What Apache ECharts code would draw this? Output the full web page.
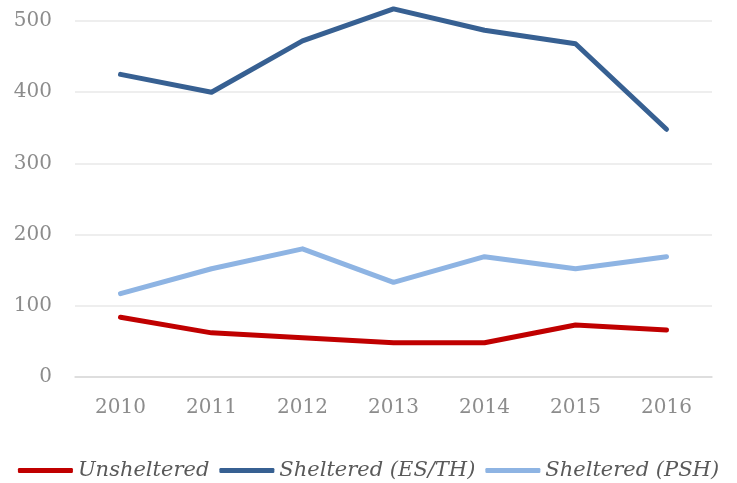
<!DOCTYPE html>
<html>
<head>
<meta charset="utf-8">
<script src="https://cdn.jsdelivr.net/npm/echarts@6/dist/echarts.min.js"></script>
<style>
	html, body { margin: 0; padding: 0; background: #fff; }
	#chart { width: 737px; height: 483px; }
</style>
</head>
<body>
<div id="chart"></div>
<script>
const years = ["2010", "2011", "2012", "2013", "2014", "2015", "2016"];
const unsheltered = [84, 62, 55, 48, 48, 73, 66];
const shelteredEsTh = [425, 400, 472, 517, 487, 468, 348];
const shelteredPsh = [117, 152, 180, 133, 169, 152, 169];

const chart = echarts.init(document.getElementById("chart"));

const serif = "DejaVu Serif";

const option = {
	animation: false,
	grid: {
		left: 75,
		right: 25,
		top: 21,
		bottom: 106
	},
	legend: {
		top: 455,
		left: "center",
		icon: "roundRect",
		itemWidth: 55,
		itemHeight: 5,
		itemGap: 10,
		textStyle: {
			fontFamily: serif,
			fontStyle: "italic",
			fontSize: 21,
			color: "#595959"
		},
		data: ["Unsheltered", "Sheltered (ES/TH)", "Sheltered (PSH)"]
	},
	xAxis: {
		type: "category",
		data: years,
		axisLine: { lineStyle: { color: "#d9d9d9", width: 1.5 } },
		axisTick: { show: false },
		axisLabel: {
			fontFamily: serif,
			fontSize: 20,
			color: "#8c8c8c",
			margin: 21
		}
	},
	yAxis: {
		type: "value",
		min: 0,
		max: 500,
		interval: 100,
		axisLine: { show: false },
		axisTick: { show: false },
		axisLabel: {
			fontFamily: serif,
			fontSize: 20,
			color: "#8c8c8c",
			margin: 23
		},
		splitLine: { lineStyle: { color: "#e8e8e8", width: 1.5 } }
	},
	series: [
		{
			name: "Unsheltered",
			type: "line",
			data: unsheltered,
			symbol: "none",
			clip: false,
			lineStyle: { color: "#c00000", width: 5, cap: "round", join: "round" },
			itemStyle: { color: "#c00000" }
		},
		{
			name: "Sheltered (ES/TH)",
			type: "line",
			data: shelteredEsTh,
			symbol: "none",
			clip: false,
			lineStyle: { color: "#376092", width: 5, cap: "round", join: "round" },
			itemStyle: { color: "#376092" }
		},
		{
			name: "Sheltered (PSH)",
			type: "line",
			data: shelteredPsh,
			symbol: "none",
			clip: false,
			lineStyle: { color: "#8eb4e3", width: 5, cap: "round", join: "round" },
			itemStyle: { color: "#8eb4e3" }
		}
	]
};

option && chart.setOption(option);
</script>
</body>
</html>
